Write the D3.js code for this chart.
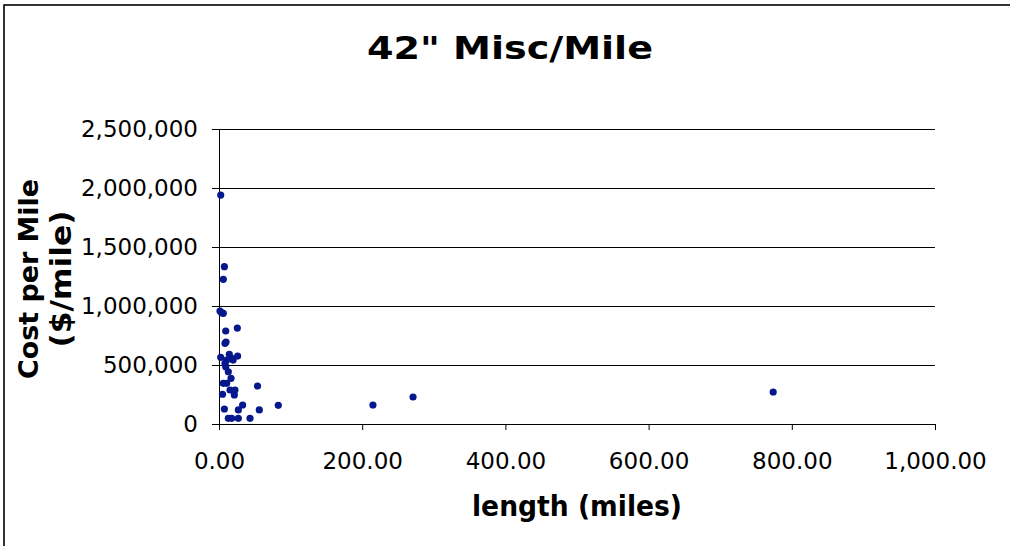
<!DOCTYPE html>
<html>
<head>
<meta charset="utf-8">
<script src="https://cdn.jsdelivr.net/npm/d3@7"></script>
<style>
  body { margin: 0; background: #fff; }
  text { font-family: "DejaVu Sans", Verdana, sans-serif; fill: #000; }
</style>
</head>
<body>
<svg width="1010" height="546"></svg>
<script>
// length (miles) and cost per mile ($/mile)
const lengths = [2.4, 7.5, 6, 1.4, 3.7, 6, 25.6, 9.4, 8.4, 9.8, 2.4, 14.4, 17.7, 26, 10.7, 19.7,
  8.4, 9.4, 13, 16.8, 6, 10.7, 53.8, 15.4, 22.3, 21.4, 4.9, 33, 82.8, 7.5, 27, 56.3,
  13, 17.7, 27, 43.3, 215, 271, 774];
const costs = [1940000, 1333000, 1226000, 957000, 943000, 938000, 813000, 788000, 684000, 695000,
  565000, 591000, 557000, 576000, 542000, 542000, 514000, 486000, 443000, 387000, 345000, 345000,
  322000, 288000, 288000, 246000, 252000, 161000, 158000, 127000, 119000, 119000,
  48000, 48000, 48000, 48000, 161000, 229000, 271000];
const xTicks = [0, 200, 400, 600, 800, 1000];
const yTicks = [0, 500000, 1000000, 1500000, 2000000, 2500000];

const svg = d3.select("svg");
const margin = { top: 129, right: 75, bottom: 122, left: 219 },
  width = 1010 - margin.left - margin.right,
  height = 546 - margin.top - margin.bottom;

// chart border (runs off the right and bottom edges)
svg.append("rect")
  .attr("x", 4).attr("y", 5)
  .attr("width", 1020).attr("height", 600)
  .attr("fill", "none").attr("stroke", "#000").attr("stroke-width", 1.6);

const x = d3.scaleLinear().domain([0, 1000]).range([0, width]);
const y = d3.scaleLinear().domain([0, 2500000]).range([height, 0]);

const g = svg.append("g").attr("transform", `translate(${margin.left},${margin.top})`);

// gridlines
g.append("g")
  .selectAll("line")
  .data(yTicks.slice(1))
  .enter()
  .append("line")
  .attr("x1", 0).attr("x2", width)
  .attr("y1", (d) => Math.round(y(d)) + 0.5)
  .attr("y2", (d) => Math.round(y(d)) + 0.5)
  .attr("stroke", "#000").attr("stroke-width", 1);

const fmtX = d3.format(",.2f"), fmtY = d3.format(",");

g.append("g")
  .attr("transform", `translate(0,${height})`)
  .call(d3.axisBottom(x).tickValues(xTicks).tickFormat(fmtX).tickSize(6).tickPadding(23))
  .call((a) => a.selectAll("text").style("font-size", "23px"))
  .call((a) => a.selectAll("path,line").attr("stroke", "#000"));

g.append("g")
  .call(d3.axisLeft(y).tickValues(yTicks).tickFormat(fmtY).tickSize(7).tickPadding(14))
  .call((a) => a.selectAll("text").style("font-size", "23px"))
  .call((a) => a.selectAll("path,line").attr("stroke", "#000"));

// points
g.append("g")
  .selectAll("circle")
  .data(lengths.map((d, i) => ({ len: d, cost: costs[i] })))
  .enter()
  .append("circle")
  .attr("cx", (d) => x(d.len))
  .attr("cy", (d) => y(d.cost))
  .attr("r", 3.6)
  .attr("fill", "#06188c");

// title
svg.append("text")
  .attr("x", 510).attr("y", 59)
  .attr("text-anchor", "middle")
  .attr("textLength", 286).attr("lengthAdjust", "spacingAndGlyphs")
  .style("font-size", "32px").style("font-weight", "bold")
  .text('42" Misc/Mile');

svg.append("text")
  .attr("x", margin.left + width / 2).attr("y", 516)
  .attr("text-anchor", "middle")
  .attr("textLength", 210).attr("lengthAdjust", "spacingAndGlyphs")
  .style("font-size", "29px").style("font-weight", "bold")
  .text("length (miles)");

const yl = svg.append("text")
  .attr("transform", `translate(38,279) rotate(-90)`)
  .attr("text-anchor", "middle")
  .style("font-size", "27px").style("font-weight", "bold");
yl.append("tspan").attr("x", 0).attr("dy", 0)
  .attr("textLength", 200).attr("lengthAdjust", "spacingAndGlyphs").text("Cost per Mile");
yl.append("tspan").attr("x", 0).attr("dy", 33)
  .style("font-size", "29px")
  .attr("textLength", 137).attr("lengthAdjust", "spacingAndGlyphs").text("($/mile)");
</script>
</body>
</html>
